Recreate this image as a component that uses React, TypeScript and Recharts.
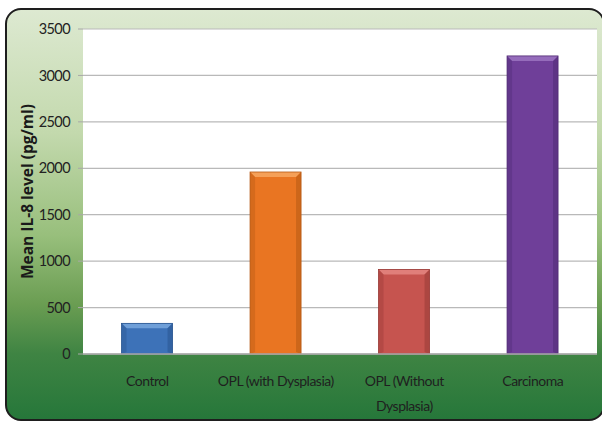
import { BarChart, Bar, XAxis, YAxis, CartesianGrid, Cell } from 'recharts';

const categories = ['Control', 'OPL (with Dysplasia)', 'OPL (Without Dysplasia)', 'Carcinoma'];
const il8Means = [330, 1960, 910, 3210];
const yTicks = [0, 500, 1000, 1500, 2000, 2500, 3000, 3500];

const chartData = categories.map((name, i) => ({ name, value: il8Means[i] }));

// base / highlight / shade for each bevelled bar
const barStyles = [
  { base: '#3d72b8', light: '#6f9fd8', dark: '#2a558f' },
  { base: '#e97522', light: '#f5a058', dark: '#b65914' },
  { base: '#c6544f', light: '#e07f7a', dark: '#983a36' },
  { base: '#6f3f99', light: '#956cbb', dark: '#502c75' },
];

const FONT = "Lato, 'Open Sans', sans-serif";

const BevelBar = (props: any) => {
  const { x, y, width, height, index } = props;
  const s = barStyles[index % barStyles.length];
  const b = 5;
  return (
    <g>
      <rect x={x} y={y} width={width} height={height} fill={s.base} />
      <polygon points={`${x},${y} ${x + width},${y} ${x + width - b},${y + b} ${x + b},${y + b}`} fill={s.light} />
      <polygon points={`${x},${y} ${x + b},${y + b} ${x + b},${y + height - 2} ${x},${y + height}`} fill={s.dark} opacity={0.4} />
      <polygon points={`${x + width},${y} ${x + width - b},${y + b} ${x + width - b},${y + height - 2} ${x + width},${y + height}`} fill={s.dark} opacity={0.55} />
      <rect x={x} y={y} width={width} height={height} fill="none" stroke={s.dark} strokeWidth={0.8} />
    </g>
  );
};

const CategoryTick = (props: any) => {
  const { x, y, payload } = props;
  const text: string = payload.value;
  const lines = text === 'OPL (Without Dysplasia)' ? ['OPL (Without', 'Dysplasia)'] : [text];
  return (
    <text x={x} y={y} textAnchor="middle" fill="#1f1f1f" fontSize={14} letterSpacing={-0.5} fontFamily={FONT}>
      {lines.map((l, i) => (
        <tspan key={i} x={x} dy={i === 0 ? 24 : 25}>
          {l}
        </tspan>
      ))}
    </text>
  );
};

export default function App() {
  return (
    <div style={{ position: 'absolute', left: 0, top: 0, width: 602, height: 421, overflow: 'hidden', background: '#fff' }}>
      <div
        style={{
          position: 'absolute',
          left: 5,
          top: 8,
          width: 600,
          height: 413,
          boxSizing: 'border-box',
          border: '2px solid #1e1e1e',
          borderRadius: 16,
          background:
            'linear-gradient(to bottom, #dde9d1 0%, #c3d9ad 30%, #98bf7c 55%, #6a9d52 72%, #3f8443 84%, #26773a 100%)',
        }}
      />
      <div style={{ position: 'absolute', left: 0, top: 0 }}>
        <BarChart
          width={602}
          height={421}
          data={chartData}
          margin={{ top: 29, right: 5, bottom: 0, left: 0 }}
          barCategoryGap="30%"
        >
          <CartesianGrid vertical={false} stroke="#b9b9b9" fill="#ffffff" strokeWidth={1.2} />
          <XAxis
            dataKey="name"
            height={67}
            interval={0}
            tick={<CategoryTick />}
            tickLine={false}
            axisLine={{ stroke: '#a8a8a8', strokeWidth: 1.5 }}
          />
          <YAxis
            width={83}
            domain={[0, 3500]}
            ticks={yTicks}
            tickSize={5}
            tickMargin={8}
            tickLine={{ stroke: '#a8a8a8' }}
            axisLine={false}
            tick={{ fill: '#222', fontSize: 14.5, letterSpacing: -0.6, fontFamily: FONT }}
            label={{
              value: 'Mean IL-8 level (pg/ml)',
              angle: -90,
              position: 'insideLeft',
              offset: 0,
              dx: 27,
              style: { textAnchor: 'middle', fill: '#1a1a1a', fontSize: 15.5, fontWeight: 700, fontFamily: "'Open Sans', sans-serif" },
            }}
          />
          <Bar dataKey="value" shape={<BevelBar />} isAnimationActive={false}>
            {chartData.map((d, i) => (
              <Cell key={d.name} fill={barStyles[i].base} />
            ))}
          </Bar>
        </BarChart>
      </div>
    </div>
  );
}
